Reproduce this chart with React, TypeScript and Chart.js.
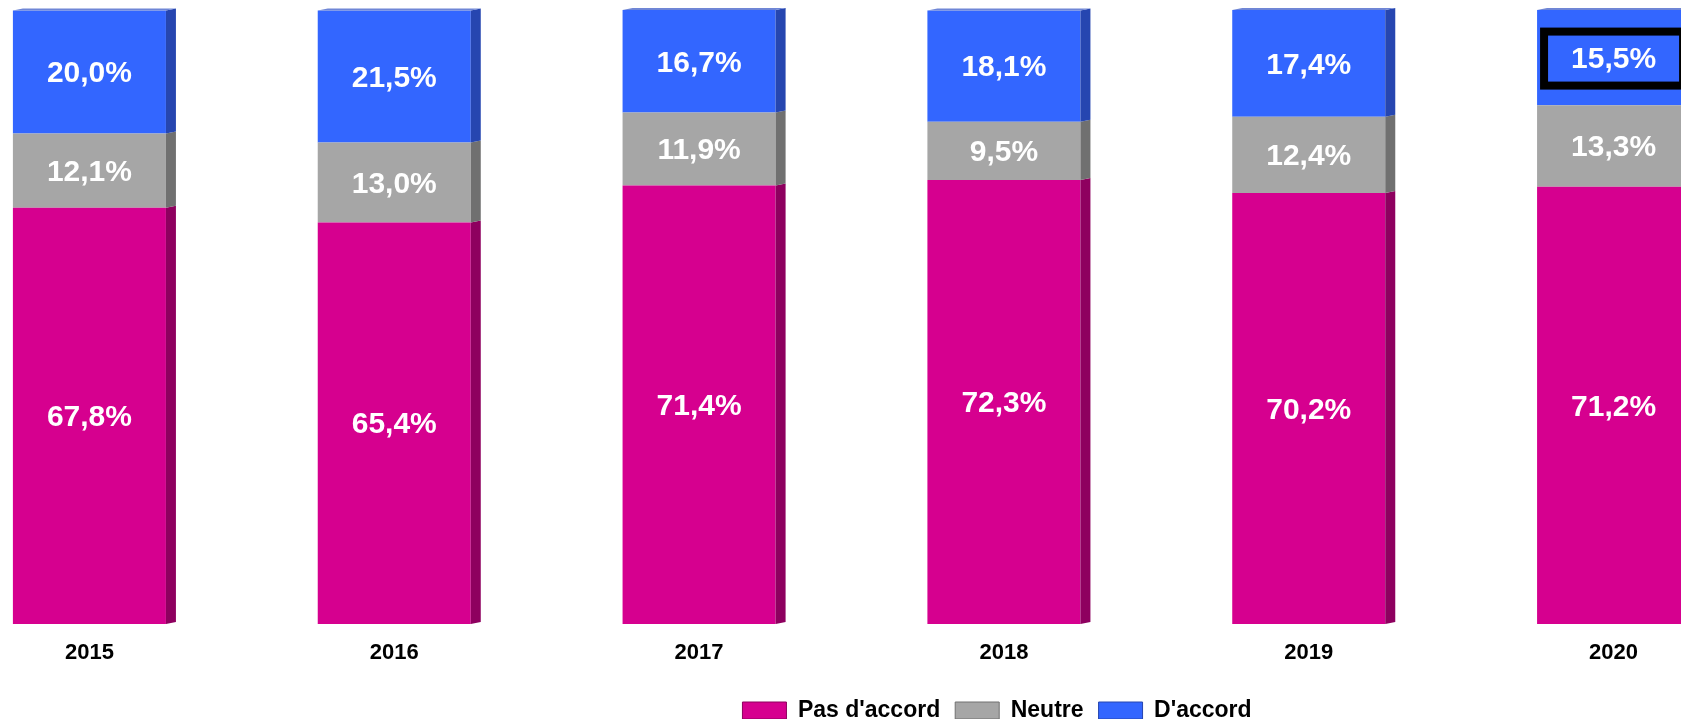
import React, { useEffect, useRef } from 'react';
import { Chart, registerables } from 'chart.js';

Chart.register(...registerables);

// ---- data ----
const years = ['2015', '2016', '2017', '2018', '2019', '2020'];
const pasDaccord = [67.8, 65.4, 71.4, 72.3, 70.2, 71.2];
const neutre = [12.1, 13.0, 11.9, 9.5, 12.4, 13.3];
const daccord = [20.0, 21.5, 16.7, 18.1, 17.4, 15.5];
const seriesNames = ["Pas d'accord", 'Neutre', "D'accord"];
const highlighted = [{ series: 2, index: 5 }];

// ---- styles ----
const frontColors = ['#D6008F', '#A6A6A6', '#3366FF'];
const sideColors = ['#8E005F', '#707070', '#2646B0'];
const topFaceColor = '#6F86D6';
const FONT = '"Liberation Sans", Arial, Helvetica, sans-serif';
const DEPTH_X = 10;
const DEPTH_Y = 2;

const side3d = {
  id: 'side3d',
  afterDatasetsDraw(chart: any) {
    const ctx = chart.ctx;
    const n = chart.data.datasets.length;
    chart.data.datasets.forEach((_ds: any, di: number) => {
      const meta = chart.getDatasetMeta(di);
      meta.data.forEach((bar: any) => {
        const { x, y, base, width } = bar.getProps(['x', 'y', 'base', 'width'], true);
        const left = x - width / 2;
        const right = x + width / 2;
        const top = Math.min(y, base);
        const bottom = Math.max(y, base);
        ctx.save();
        ctx.fillStyle = sideColors[di];
        ctx.beginPath();
        ctx.moveTo(right, top);
        ctx.lineTo(right + DEPTH_X, top - DEPTH_Y);
        ctx.lineTo(right + DEPTH_X, bottom - DEPTH_Y);
        ctx.lineTo(right, bottom);
        ctx.closePath();
        ctx.fill();
        if (di === n - 1) {
          ctx.fillStyle = topFaceColor;
          ctx.beginPath();
          ctx.moveTo(left, top);
          ctx.lineTo(left + DEPTH_X, top - DEPTH_Y);
          ctx.lineTo(right + DEPTH_X, top - DEPTH_Y);
          ctx.lineTo(right, top);
          ctx.closePath();
          ctx.fill();
        }
        ctx.restore();
      });
    });
  },
};

const fmt = (v: number) => v.toFixed(1).replace('.', ',') + '%';

const valueLabels = {
  id: 'valueLabels',
  afterDatasetsDraw(chart: any) {
    const ctx = chart.ctx;
    chart.data.datasets.forEach((ds: any, di: number) => {
      const meta = chart.getDatasetMeta(di);
      meta.data.forEach((bar: any, i: number) => {
        const { x, y, base, width } = bar.getProps(['x', 'y', 'base', 'width'], true);
        const cy = (y + base) / 2 + 2;
        ctx.save();
        if (highlighted.some((h) => h.series === di && h.index === i)) {
          ctx.strokeStyle = '#000';
          ctx.lineWidth = 8;
          ctx.strokeRect(x - width / 2 + 7, cy - 28, width - 14, 54);
        }
        ctx.fillStyle = '#fff';
        ctx.font = `bold 30px ${FONT}`;
        ctx.textAlign = 'center';
        ctx.textBaseline = 'middle';
        ctx.fillText(fmt(ds.data[i]), x, cy);
        ctx.restore();
      });
    });
  },
};

export default function App() {
  const ref = useRef<HTMLCanvasElement | null>(null);

  useEffect(() => {
    if (!ref.current) return;
    const values = [pasDaccord, neutre, daccord];
    const chart = new Chart(ref.current, {
      type: 'bar',
      data: {
        labels: years,
        datasets: values.map((d, i) => ({
          label: seriesNames[i],
          data: d,
          backgroundColor: frontColors[i],
          borderColor: sideColors[i],
          borderWidth: 0,
          categoryPercentage: 1,
          barPercentage: 0.502,
        })),
      },
      options: {
        responsive: false,
        animation: false,
        events: [],
        layout: { padding: { top: 10, left: 0, right: 0, bottom: 0 } },
        scales: {
          x: {
            stacked: true,
            grid: { display: false, drawTicks: false },
            border: { display: false },
            ticks: {
              color: '#000',
              font: { family: FONT, size: 22, weight: 'bold' },
              padding: 16,
              maxRotation: 0,
              autoSkip: false,
            },
            afterFit: (s: any) => {
              s.height = 60;
            },
          },
          y: {
            stacked: true,
            position: 'right',
            min: 0,
            max: 100,
            grid: { display: false, drawTicks: false },
            border: { display: false },
            ticks: { display: false },
            afterFit: (s: any) => {
              s.width = 291;
            },
          },
        },
        plugins: {
          legend: {
            position: 'bottom',
            labels: {
              boxWidth: 44,
              boxHeight: 17,
              padding: 15,
              color: '#000',
              font: { family: FONT, size: 23, weight: 'bold' },
              generateLabels: (c: any) => {
                const items = (Chart.defaults.plugins.legend.labels as any).generateLabels(c);
                return items.map((it: any) => ({
                  ...it,
                  lineWidth: 1,
                  strokeStyle: sideColors[it.datasetIndex],
                }));
              },
            },
          },
          tooltip: { enabled: false },
        },
      } as any,
      plugins: [side3d, valueLabels],
    });
    return () => chart.destroy();
  }, []);

  return (
    <div
      style={{
        position: 'absolute',
        left: 0,
        top: 0,
        width: '100vw',
        height: '100vh',
        overflow: 'hidden',
        background: '#fff',
      }}
    >
      <canvas
        ref={ref}
        width={2120}
        height={732}
        style={{ position: 'absolute', left: -63, top: 0, width: 2120, height: 732 }}
      />
    </div>
  );
}
